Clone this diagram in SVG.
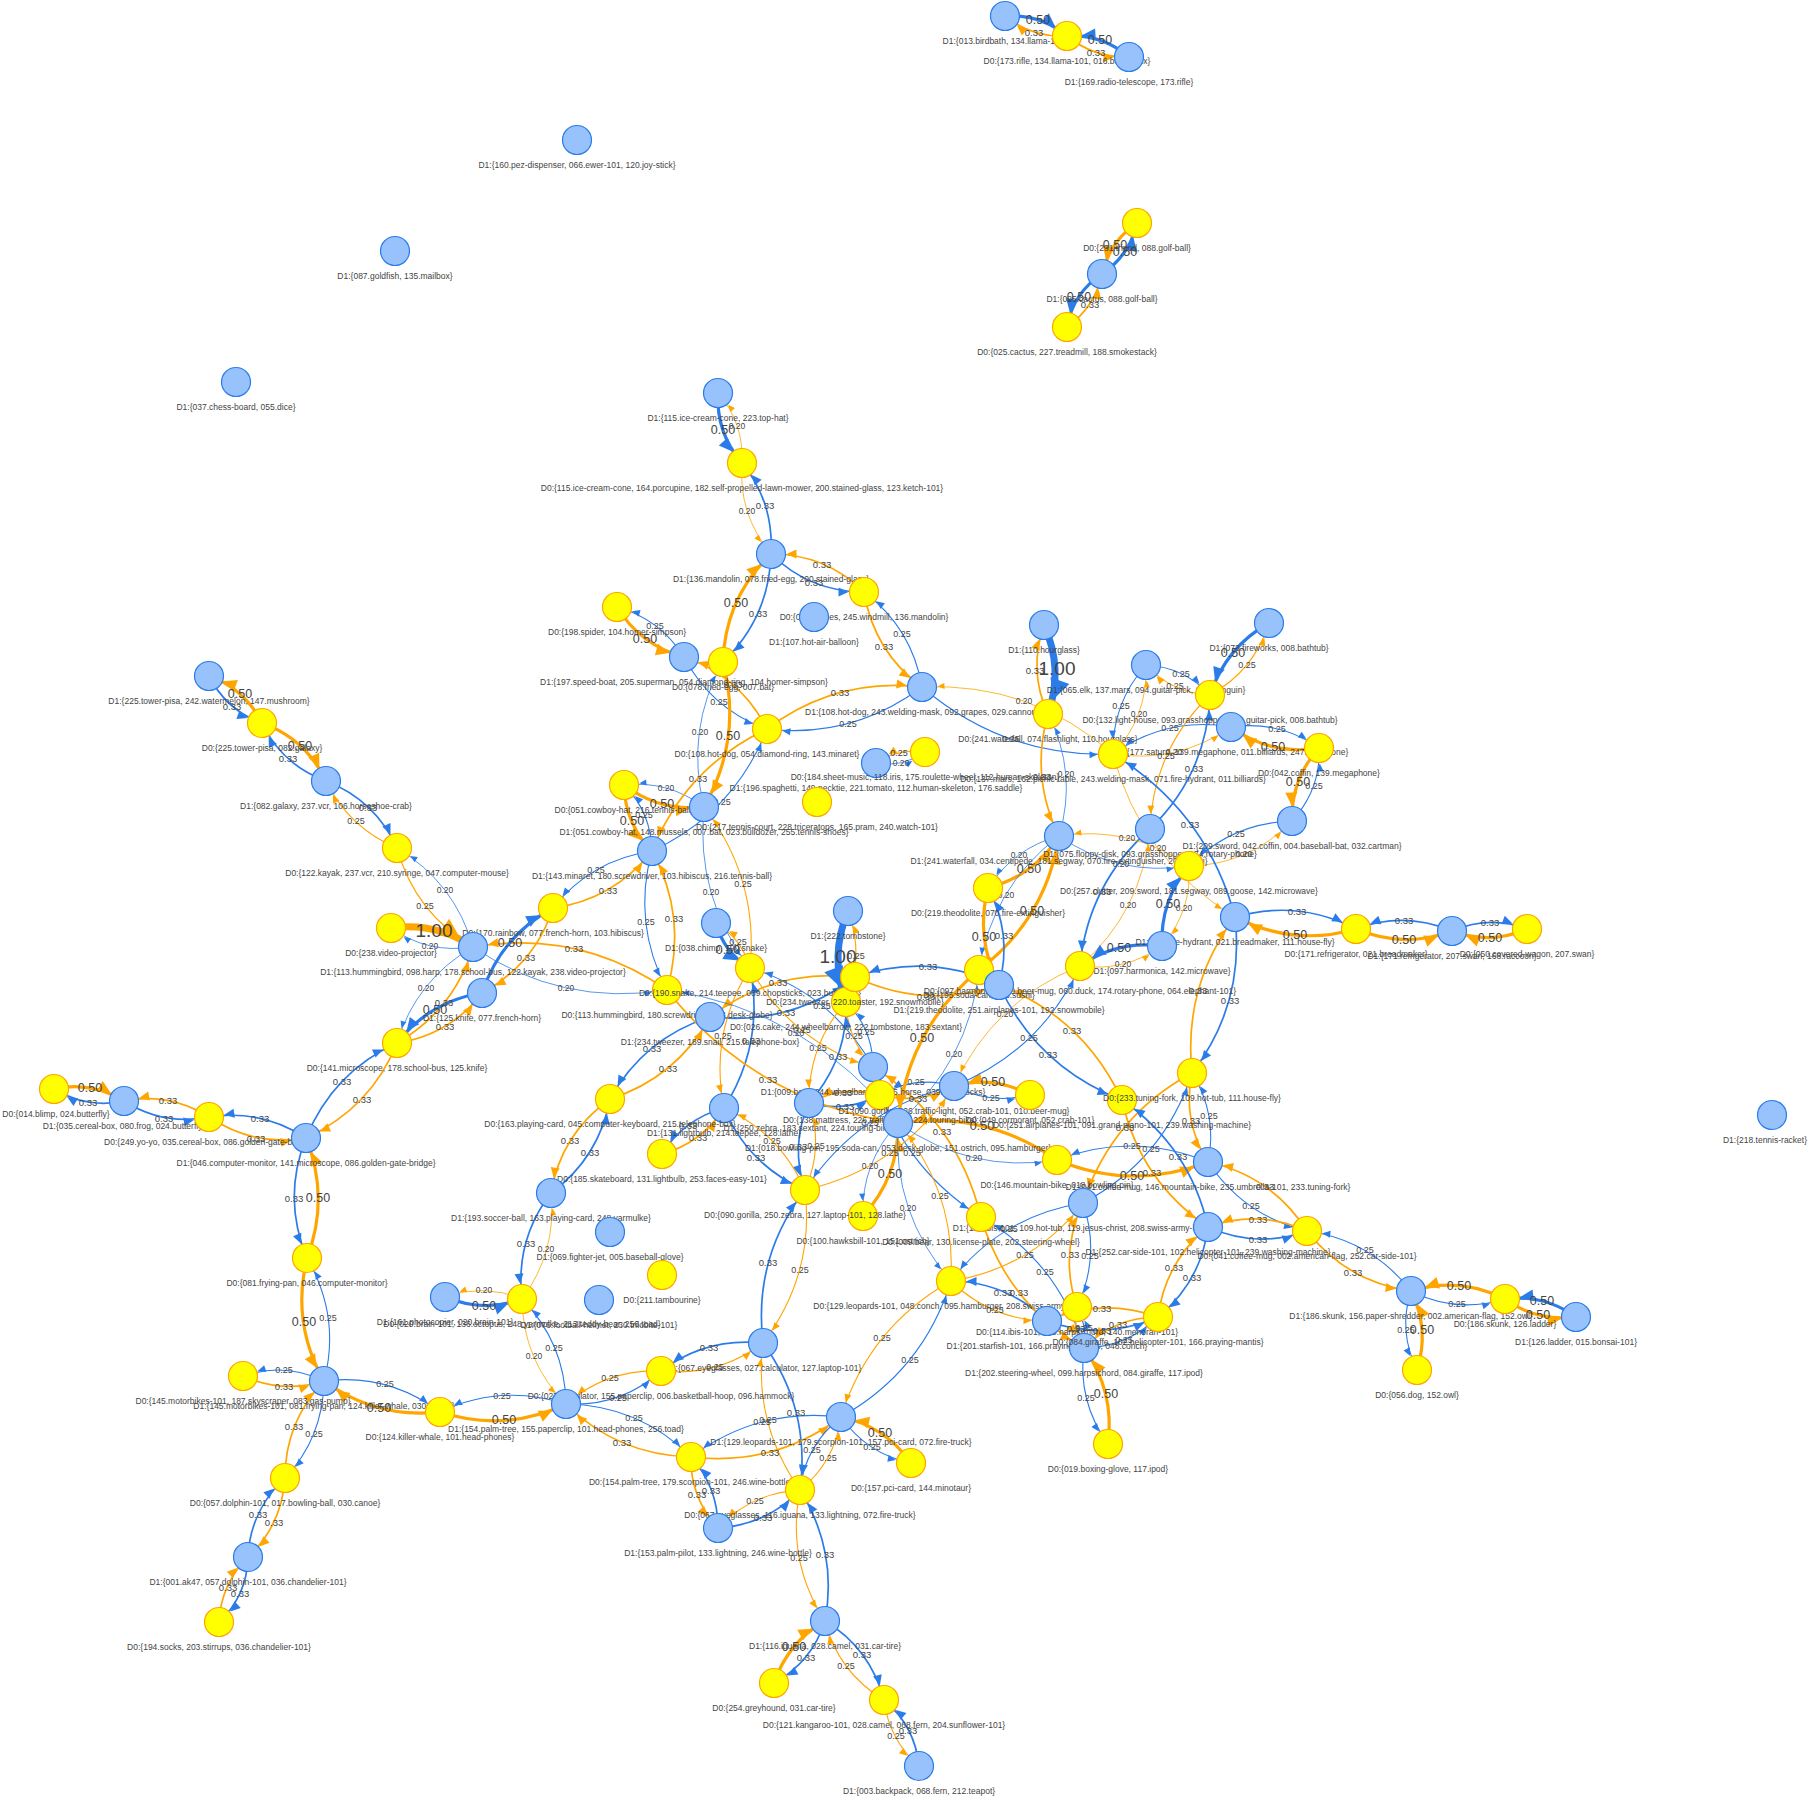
<svg xmlns="http://www.w3.org/2000/svg" width="1814" height="1796" viewBox="0 0 1814 1796">
<style>
.b{fill:none;stroke:#2B7CE9}
.o{fill:none;stroke:#FFA500}
.w20{stroke-width:0.8}.w25{stroke-width:1.1}.w33{stroke-width:1.7}.w50{stroke-width:3.2}.w100{stroke-width:7}
.b.w20{marker-end:url(#mb20)}.b.w25{marker-end:url(#mb25)}.b.w33{marker-end:url(#mb33)}.b.w50{marker-end:url(#mb50)}.b.w100{marker-end:url(#mb100)}
.o.w20{marker-end:url(#mo20)}.o.w25{marker-end:url(#mo25)}.o.w33{marker-end:url(#mo33)}.o.w50{marker-end:url(#mo50)}.o.w100{marker-end:url(#mo100)}
.el{font-family:"Liberation Sans",Arial,sans-serif;fill:#444;text-anchor:middle;dominant-baseline:central}
.f20{font-size:8.5px}.f25{font-size:9px}.f33{font-size:9.5px}.f50{font-size:12.5px}.f100{font-size:19px}
.nl{font-family:"Liberation Sans",Arial,sans-serif;font-size:8.5px;fill:#444;text-anchor:middle;dominant-baseline:central}
.nb{fill:#97C2FC;stroke:#2B7CE9;stroke-width:1.2}
.ny{fill:#FFFF00;stroke:#FFA500;stroke-width:1.2}
</style>
<defs>
<marker id="mb20" markerUnits="userSpaceOnUse" orient="auto" refX="22.5" refY="0" markerWidth="40" markerHeight="40" overflow="visible"><path d="M0,-3L7,0L0,3Z" fill="#2B7CE9"/></marker>
<marker id="mb25" markerUnits="userSpaceOnUse" orient="auto" refX="23.5" refY="0" markerWidth="40" markerHeight="40" overflow="visible"><path d="M0,-3.5L8,0L0,3.5Z" fill="#2B7CE9"/></marker>
<marker id="mb33" markerUnits="userSpaceOnUse" orient="auto" refX="25.5" refY="0" markerWidth="40" markerHeight="40" overflow="visible"><path d="M0,-4.5L10,0L0,4.5Z" fill="#2B7CE9"/></marker>
<marker id="mb50" markerUnits="userSpaceOnUse" orient="auto" refX="28.5" refY="0" markerWidth="40" markerHeight="40" overflow="visible"><path d="M0,-6L13,0L0,6Z" fill="#2B7CE9"/></marker>
<marker id="mb100" markerUnits="userSpaceOnUse" orient="auto" refX="35.5" refY="0" markerWidth="40" markerHeight="40" overflow="visible"><path d="M0,-10L20,0L0,10Z" fill="#2B7CE9"/></marker>
<marker id="mo20" markerUnits="userSpaceOnUse" orient="auto" refX="22.5" refY="0" markerWidth="40" markerHeight="40" overflow="visible"><path d="M0,-3L7,0L0,3Z" fill="#FFA500"/></marker>
<marker id="mo25" markerUnits="userSpaceOnUse" orient="auto" refX="23.5" refY="0" markerWidth="40" markerHeight="40" overflow="visible"><path d="M0,-3.5L8,0L0,3.5Z" fill="#FFA500"/></marker>
<marker id="mo33" markerUnits="userSpaceOnUse" orient="auto" refX="25.5" refY="0" markerWidth="40" markerHeight="40" overflow="visible"><path d="M0,-4.5L10,0L0,4.5Z" fill="#FFA500"/></marker>
<marker id="mo50" markerUnits="userSpaceOnUse" orient="auto" refX="28.5" refY="0" markerWidth="40" markerHeight="40" overflow="visible"><path d="M0,-6L13,0L0,6Z" fill="#FFA500"/></marker>
<marker id="mo100" markerUnits="userSpaceOnUse" orient="auto" refX="35.5" refY="0" markerWidth="40" markerHeight="40" overflow="visible"><path d="M0,-10L20,0L0,10Z" fill="#FFA500"/></marker>
</defs>
<rect width="1814" height="1796" fill="#ffffff"/>
<g id="edges">
<path class="b w50" d="M1005 16Q1040 14 1067 36"/><path class="o w33" d="M1067 36Q1032 38 1005 16"/>
<path class="b w50" d="M1129 57Q1102 34 1067 36"/><path class="o w33" d="M1067 36Q1094 58 1129 57"/>
<path class="b w50" d="M1102 274Q1130 255 1137 223"/><path class="o w50" d="M1137 223Q1110 241 1102 274"/>
<path class="b w50" d="M1102 274Q1073 293 1067 327"/><path class="o w33" d="M1067 327Q1095 307 1102 274"/>
<path class="b w50" d="M718 393Q716 433 742 463"/><path class="o w20" d="M742 463Q744 423 718 393"/>
<path class="b w33" d="M771 554Q774 502 742 463"/><path class="o w20" d="M742 463Q738 514 771 554"/>
<path class="b w33" d="M771 554Q810 592 864 592"/><path class="o w33" d="M864 592Q826 554 771 554"/>
<path class="b w33" d="M771 554Q769 618 723 662"/><path class="o w50" d="M723 662Q725 598 771 554"/>
<path class="b w25" d="M684 657Q660 619 617 607"/><path class="o w50" d="M617 607Q640 645 684 657"/>
<path class="b w25" d="M684 657Q712 710 767 729"/><path class="o w33" d="M767 729Q740 676 684 657"/>
<path class="b w25" d="M922 687Q912 628 864 592"/><path class="o w33" d="M864 592Q874 652 922 687"/>
<path class="b w25" d="M922 687Q852 739 767 729"/><path class="o w33" d="M767 729Q836 677 922 687"/>
<path class="b w25" d="M922 687Q1005 758 1113 754"/><path class="o w20" d="M1113 754Q1031 682 922 687"/>
<path class="b w20" d="M876 763Q902 768 925 752"/><path class="o w25" d="M925 752Q898 748 876 763"/>
<path class="b w20" d="M704 807Q685 730 723 662"/><path class="o w50" d="M723 662Q743 738 704 807"/>
<path class="b w20" d="M704 807Q668 780 624 785"/><path class="o w50" d="M624 785Q660 812 704 807"/>
<path class="b w20" d="M704 807Q695 897 750 968"/><path class="o w25" d="M750 968Q759 879 704 807"/>
<path class="b w25" d="M652 851Q734 813 767 729"/><path class="o w33" d="M767 729Q686 767 652 851"/>
<path class="b w25" d="M652 851Q651 812 624 785"/><path class="o w50" d="M624 785Q625 824 652 851"/>
<path class="b w25" d="M652 851Q591 860 553 908"/><path class="o w33" d="M553 908Q613 900 652 851"/>
<path class="b w25" d="M652 851Q632 923 667 990"/><path class="o w33" d="M667 990Q688 917 652 851"/>
<path class="b w20" d="M473 947Q455 883 397 848"/><path class="o w25" d="M397 848Q415 913 473 947"/>
<path class="b w20" d="M473 947Q428 954 391 928"/><path class="o w100" d="M391 928Q436 922 473 947"/>
<path class="b w20" d="M473 947Q416 980 397 1043"/><path class="o w33" d="M397 1043Q454 1010 473 947"/>
<path class="b w20" d="M473 947Q561 1007 667 990"/><path class="o w33" d="M667 990Q579 929 473 947"/>
<path class="b w50" d="M482 993Q501 936 553 908"/><path class="o w33" d="M553 908Q535 964 482 993"/>
<path class="b w50" d="M482 993Q430 1001 397 1043"/><path class="o w33" d="M397 1043Q450 1035 482 993"/>
<path class="b w50" d="M716 923Q724 953 750 968"/><path class="o w25" d="M750 968Q742 939 716 923"/>
<path class="b w33" d="M710 1017Q790 1026 855 977"/><path class="o w33" d="M855 977Q774 968 710 1017"/>
<path class="b w33" d="M710 1017Q644 1038 610 1099"/><path class="o w33" d="M610 1099Q676 1078 710 1017"/>
<path class="b w100" d="M848 911Q829 956 846 1002"/><path class="o w25" d="M846 1002Q865 956 848 911"/>
<path class="b w25" d="M873 1067Q832 993 750 968"/><path class="o w25" d="M750 968Q792 1043 873 1067"/>
<path class="b w25" d="M873 1067Q873 1029 846 1002"/><path class="o w25" d="M846 1002Q847 1039 873 1067"/>
<path class="b w25" d="M873 1067Q897 1164 981 1217"/><path class="o w33" d="M981 1217Q957 1120 873 1067"/>
<path class="b w25" d="M954 1086Q990 1105 1030 1095"/><path class="o w50" d="M1030 1095Q994 1075 954 1086"/>
<path class="b w25" d="M954 1086Q915 1075 880 1095"/><path class="o w33" d="M880 1095Q919 1105 954 1086"/>
<path class="b w25" d="M954 1086Q859 1108 805 1190"/><path class="o w25" d="M805 1190Q901 1168 954 1086"/>
<path class="b w25" d="M954 1086Q1041 1051 1080 966"/><path class="o w20" d="M1080 966Q993 1001 954 1086"/>
<path class="b w33" d="M809 1103Q848 1059 846 1002"/><path class="o w25" d="M846 1002Q808 1045 809 1103"/>
<path class="b w33" d="M809 1103Q846 1113 880 1095"/><path class="o w33" d="M880 1095Q842 1085 809 1103"/>
<path class="b w33" d="M809 1103Q790 1145 805 1190"/><path class="o w25" d="M805 1190Q824 1147 809 1103"/>
<path class="b w33" d="M724 1108Q765 1043 750 968"/><path class="o w25" d="M750 968Q709 1033 724 1108"/>
<path class="b w33" d="M724 1108Q748 1165 805 1190"/><path class="o w25" d="M805 1190Q780 1133 724 1108"/>
<path class="b w33" d="M724 1108Q684 1119 662 1154"/><path class="o w33" d="M662 1154Q702 1143 724 1108"/>
<path class="b w20" d="M898 1123Q809 1010 667 990"/><path class="o w33" d="M667 990Q755 1102 898 1123"/>
<path class="b w20" d="M898 1123Q971 1174 1057 1160"/><path class="o w50" d="M1057 1160Q985 1110 898 1123"/>
<path class="b w20" d="M898 1123Q861 1163 863 1216"/><path class="o w50" d="M863 1216Q899 1177 898 1123"/>
<path class="b w20" d="M898 1123Q892 1213 951 1281"/><path class="o w25" d="M951 1281Q956 1191 898 1123"/>
<path class="b w20" d="M898 1123Q969 1062 979 970"/><path class="o w50" d="M979 970Q907 1030 898 1123"/>
<path class="b w25" d="M1083 1203Q1001 1216 951 1281"/><path class="o w25" d="M951 1281Q1033 1268 1083 1203"/>
<path class="b w25" d="M1083 1203Q1101 1256 1077 1307"/><path class="o w33" d="M1077 1307Q1059 1254 1083 1203"/>
<path class="b w25" d="M1083 1203Q1164 1160 1192 1073"/><path class="o w33" d="M1192 1073Q1112 1116 1083 1203"/>
<path class="b w25" d="M1208 1162Q1132 1131 1057 1160"/><path class="o w50" d="M1057 1160Q1132 1191 1208 1162"/>
<path class="b w25" d="M1208 1162Q1244 1216 1307 1231"/><path class="o w33" d="M1307 1231Q1272 1176 1208 1162"/>
<path class="b w25" d="M1208 1162Q1218 1115 1192 1073"/><path class="o w33" d="M1192 1073Q1182 1121 1208 1162"/>
<path class="b w33" d="M551 1193Q599 1158 610 1099"/><path class="o w33" d="M610 1099Q561 1134 551 1193"/>
<path class="b w33" d="M551 1193Q515 1240 522 1299"/><path class="o w20" d="M522 1299Q557 1252 551 1193"/>
<path class="b w50" d="M445 1297Q484 1313 522 1299"/><path class="o w20" d="M522 1299Q484 1283 445 1297"/>
<path class="b w33" d="M763 1343Q753 1258 805 1190"/><path class="o w25" d="M805 1190Q815 1274 763 1343"/>
<path class="b w33" d="M763 1343Q706 1337 661 1371"/><path class="o w25" d="M661 1371Q718 1377 763 1343"/>
<path class="b w33" d="M763 1343Q811 1409 800 1490"/><path class="o w25" d="M800 1490Q753 1423 763 1343"/>
<path class="b w25" d="M566 1404Q565 1343 522 1299"/><path class="o w20" d="M522 1299Q523 1361 566 1404"/>
<path class="b w25" d="M566 1404Q621 1407 661 1371"/><path class="o w25" d="M661 1371Q607 1369 566 1404"/>
<path class="b w25" d="M566 1404Q639 1405 691 1457"/><path class="o w33" d="M691 1457Q617 1455 566 1404"/>
<path class="b w25" d="M566 1404Q501 1383 440 1412"/><path class="o w50" d="M440 1412Q505 1433 566 1404"/>
<path class="b w25" d="M841 1417Q758 1407 691 1457"/><path class="o w33" d="M691 1457Q774 1467 841 1417"/>
<path class="b w25" d="M841 1417Q867 1454 911 1463"/><path class="o w50" d="M911 1463Q885 1426 841 1417"/>
<path class="b w25" d="M841 1417Q805 1446 800 1490"/><path class="o w25" d="M800 1490Q835 1462 841 1417"/>
<path class="b w25" d="M841 1417Q923 1371 951 1281"/><path class="o w25" d="M951 1281Q869 1327 841 1417"/>
<path class="b w33" d="M718 1528Q718 1487 691 1457"/><path class="o w33" d="M691 1457Q690 1497 718 1528"/>
<path class="b w33" d="M718 1528Q767 1525 800 1490"/><path class="o w25" d="M800 1490Q751 1493 718 1528"/>
<path class="b w33" d="M825 1621Q838 1551 800 1490"/><path class="o w25" d="M800 1490Q786 1561 825 1621"/>
<path class="b w33" d="M825 1621Q812 1662 774 1683"/><path class="o w50" d="M774 1683Q788 1642 825 1621"/>
<path class="b w33" d="M825 1621Q870 1648 884 1700"/><path class="o w25" d="M884 1700Q838 1672 825 1621"/>
<path class="b w33" d="M919 1766Q915 1726 884 1700"/><path class="o w25" d="M884 1700Q889 1740 919 1766"/>
<path class="b w33" d="M1047 1321Q1007 1282 951 1281"/><path class="o w25" d="M951 1281Q991 1320 1047 1321"/>
<path class="b w33" d="M1047 1321Q1103 1341 1158 1317"/><path class="o w33" d="M1158 1317Q1101 1297 1047 1321"/>
<path class="b w25" d="M1084 1348Q1058 1261 981 1217"/><path class="o w33" d="M981 1217Q1006 1303 1084 1348"/>
<path class="b w25" d="M1084 1348Q1088 1327 1077 1307"/><path class="o w33" d="M1077 1307Q1072 1329 1084 1348"/>
<path class="b w25" d="M1084 1348Q1127 1347 1158 1317"/><path class="o w33" d="M1158 1317Q1115 1317 1084 1348"/>
<path class="b w25" d="M1084 1348Q1077 1401 1108 1444"/><path class="o w50" d="M1108 1444Q1115 1391 1084 1348"/>
<path class="b w33" d="M1208 1227Q1201 1282 1158 1317"/><path class="o w33" d="M1158 1317Q1165 1262 1208 1227"/>
<path class="b w33" d="M1208 1227Q1257 1249 1307 1231"/><path class="o w33" d="M1307 1231Q1259 1209 1208 1227"/>
<path class="b w33" d="M1208 1227Q1190 1147 1122 1100"/><path class="o w33" d="M1122 1100Q1140 1181 1208 1227"/>
<path class="b w25" d="M1231 727Q1167 716 1113 754"/><path class="o w20" d="M1113 754Q1177 764 1231 727"/>
<path class="b w25" d="M1231 727Q1279 720 1319 748"/><path class="o w50" d="M1319 748Q1271 756 1231 727"/>
<path class="b w33" d="M1150 829Q1088 884 1080 966"/><path class="o w20" d="M1080 966Q1142 912 1150 829"/>
<path class="b w33" d="M1150 829Q1207 774 1210 695"/><path class="o w25" d="M1210 695Q1153 750 1150 829"/>
<path class="b w25" d="M1292 821Q1231 823 1189 866"/><path class="o w20" d="M1189 866Q1249 865 1292 821"/>
<path class="b w25" d="M1292 821Q1321 789 1319 748"/><path class="o w50" d="M1319 748Q1291 779 1292 821"/>
<path class="b w20" d="M1059 836Q1118 877 1189 866"/><path class="o w20" d="M1189 866Q1130 825 1059 836"/>
<path class="b w20" d="M1059 836Q1014 848 988 888"/><path class="o w50" d="M988 888Q1034 876 1059 836"/>
<path class="b w20" d="M1059 836Q992 887 979 970"/><path class="o w50" d="M979 970Q1046 919 1059 836"/>
<path class="b w20" d="M1059 836Q1078 773 1048 714"/><path class="o w33" d="M1048 714Q1030 777 1059 836"/>
<path class="b w33" d="M1235 917Q1245 1004 1192 1073"/><path class="o w33" d="M1192 1073Q1183 986 1235 917"/>
<path class="b w33" d="M1235 917Q1207 812 1113 754"/><path class="o w20" d="M1113 754Q1141 860 1235 917"/>
<path class="b w33" d="M1235 917Q1298 899 1356 929"/><path class="o w50" d="M1356 929Q1294 947 1235 917"/>
<path class="b w50" d="M1162 946Q1160 901 1189 866"/><path class="o w20" d="M1189 866Q1192 911 1162 946"/>
<path class="b w50" d="M1162 946Q1117 940 1080 966"/><path class="o w20" d="M1080 966Q1125 972 1162 946"/>
<path class="b w33" d="M999 985Q929 952 855 977"/><path class="o w33" d="M855 977Q925 1010 999 985"/>
<path class="b w33" d="M999 985Q1037 1067 1122 1100"/><path class="o w33" d="M1122 1100Q1083 1017 999 985"/>
<path class="b w33" d="M999 985Q1013 934 988 888"/><path class="o w50" d="M988 888Q975 938 999 985"/>
<path class="b w100" d="M1044 625Q1064 669 1048 714"/><path class="o w33" d="M1048 714Q1028 671 1044 625"/>
<path class="b w25" d="M1146 665Q1112 703 1113 754"/><path class="o w20" d="M1113 754Q1148 717 1146 665"/>
<path class="b w25" d="M1146 665Q1184 667 1210 695"/><path class="o w25" d="M1210 695Q1172 693 1146 665"/>
<path class="b w50" d="M1269 623Q1226 647 1210 695"/><path class="o w25" d="M1210 695Q1254 671 1269 623"/>
<path class="b w33" d="M1452 931Q1404 911 1356 929"/><path class="o w50" d="M1356 929Q1404 949 1452 931"/>
<path class="b w33" d="M1452 931Q1490 915 1527 929"/><path class="o w50" d="M1527 929Q1490 945 1452 931"/>
<path class="b w25" d="M1411 1291Q1371 1240 1307 1231"/><path class="o w33" d="M1307 1231Q1347 1282 1411 1291"/>
<path class="b w25" d="M1411 1291Q1456 1314 1505 1299"/><path class="o w50" d="M1505 1299Q1460 1276 1411 1291"/>
<path class="b w25" d="M1411 1291Q1398 1331 1417 1370"/><path class="o w50" d="M1417 1370Q1430 1329 1411 1291"/>
<path class="b w50" d="M1576 1317Q1544 1294 1505 1299"/><path class="o w50" d="M1505 1299Q1536 1322 1576 1317"/>
<path class="b w33" d="M209 676Q227 711 262 723"/><path class="o w50" d="M262 723Q245 689 209 676"/>
<path class="b w33" d="M326 781Q282 765 262 723"/><path class="o w50" d="M262 723Q306 739 326 781"/>
<path class="b w33" d="M326 781Q375 800 397 848"/><path class="o w25" d="M397 848Q349 828 326 781"/>
<path class="b w33" d="M124 1101Q87 1109 54 1089"/><path class="o w50" d="M54 1089Q91 1081 124 1101"/>
<path class="b w33" d="M124 1101Q163 1126 209 1117"/><path class="o w33" d="M209 1117Q169 1092 124 1101"/>
<path class="b w33" d="M306 1138Q333 1072 397 1043"/><path class="o w33" d="M397 1043Q371 1108 306 1138"/>
<path class="b w33" d="M306 1138Q262 1109 209 1117"/><path class="o w33" d="M209 1117Q254 1147 306 1138"/>
<path class="b w33" d="M306 1138Q282 1198 307 1258"/><path class="o w50" d="M307 1258Q330 1198 306 1138"/>
<path class="b w25" d="M324 1381Q341 1317 307 1258"/><path class="o w50" d="M307 1258Q291 1323 324 1381"/>
<path class="b w25" d="M324 1381Q285 1362 243 1376"/><path class="o w33" d="M243 1376Q283 1394 324 1381"/>
<path class="b w25" d="M324 1381Q388 1373 440 1412"/><path class="o w50" d="M440 1412Q376 1419 324 1381"/>
<path class="b w25" d="M324 1381Q323 1438 285 1478"/><path class="o w33" d="M285 1478Q285 1422 324 1381"/>
<path class="b w33" d="M248 1557Q250 1511 285 1478"/><path class="o w33" d="M285 1478Q282 1525 248 1557"/>
<path class="b w33" d="M248 1557Q247 1596 219 1622"/><path class="o w33" d="M219 1622Q221 1584 248 1557"/>
</g>
<g id="edge-labels" class="el">
<text class="f50" x="1038" y="20">0.50</text><text class="f33" x="1034" y="32">0.33</text>
<text class="f50" x="1100" y="40">0.50</text><text class="f33" x="1096" y="52">0.33</text>
<text class="f50" x="1125" y="252">0.50</text><text class="f50" x="1115" y="245">0.50</text>
<text class="f50" x="1079" y="297">0.50</text><text class="f33" x="1090" y="304">0.33</text>
<text class="f50" x="723" y="430">0.50</text><text class="f20" x="737" y="426">0.20</text>
<text class="f33" x="765" y="505">0.33</text><text class="f20" x="747" y="511">0.20</text>
<text class="f33" x="814" y="582">0.33</text><text class="f33" x="822" y="564">0.33</text>
<text class="f33" x="758" y="613">0.33</text><text class="f50" x="736" y="603">0.50</text>
<text class="f25" x="655" y="626">0.25</text><text class="f50" x="645" y="639">0.50</text>
<text class="f25" x="719" y="702">0.25</text><text class="f33" x="733" y="684">0.33</text>
<text class="f25" x="902" y="634">0.25</text><text class="f33" x="884" y="646">0.33</text>
<text class="f25" x="848" y="724">0.25</text><text class="f33" x="840" y="692">0.33</text>
<text class="f25" x="1011" y="739">0.25</text><text class="f20" x="1024" y="701">0.20</text>
<text class="f20" x="901" y="763">0.20</text><text class="f25" x="899" y="753">0.25</text>
<text class="f20" x="700" y="732">0.20</text><text class="f50" x="728" y="736">0.50</text>
<text class="f20" x="666" y="788">0.20</text><text class="f50" x="662" y="804">0.50</text>
<text class="f20" x="711" y="892">0.20</text><text class="f25" x="743" y="884">0.25</text>
<text class="f25" x="722" y="802">0.25</text><text class="f33" x="698" y="778">0.33</text>
<text class="f25" x="644" y="815">0.25</text><text class="f50" x="632" y="821">0.50</text>
<text class="f25" x="596" y="870">0.25</text><text class="f33" x="608" y="890">0.33</text>
<text class="f25" x="646" y="922">0.25</text><text class="f33" x="674" y="918">0.33</text>
<text class="f20" x="445" y="890">0.20</text><text class="f25" x="425" y="906">0.25</text>
<text class="f20" x="430" y="946">0.20</text><text class="f100" x="434" y="930">1.00</text>
<text class="f20" x="426" y="988">0.20</text><text class="f33" x="444" y="1002">0.33</text>
<text class="f20" x="566" y="988">0.20</text><text class="f33" x="574" y="948">0.33</text>
<text class="f50" x="510" y="943">0.50</text><text class="f33" x="526" y="957">0.33</text>
<text class="f50" x="435" y="1010">0.50</text><text class="f33" x="445" y="1026">0.33</text>
<text class="f50" x="728" y="950">0.50</text><text class="f25" x="738" y="942">0.25</text>
<text class="f33" x="786" y="1012">0.33</text><text class="f33" x="778" y="982">0.33</text>
<text class="f33" x="652" y="1048">0.33</text><text class="f33" x="668" y="1068">0.33</text>
<text class="f100" x="838" y="956">1.00</text><text class="f25" x="856" y="956">0.25</text>
<text class="f25" x="822" y="1006">0.25</text><text class="f25" x="802" y="1030">0.25</text>
<text class="f25" x="866" y="1032">0.25</text><text class="f25" x="854" y="1036">0.25</text>
<text class="f25" x="912" y="1153">0.25</text><text class="f33" x="942" y="1131">0.33</text>
<text class="f25" x="991" y="1098">0.25</text><text class="f50" x="993" y="1082">0.50</text>
<text class="f25" x="916" y="1082">0.25</text><text class="f33" x="918" y="1098">0.33</text>
<text class="f25" x="870" y="1123">0.25</text><text class="f25" x="890" y="1153">0.25</text>
<text class="f25" x="1029" y="1038">0.25</text><text class="f20" x="1005" y="1014">0.20</text>
<text class="f33" x="838" y="1056">0.33</text><text class="f25" x="818" y="1048">0.25</text>
<text class="f33" x="845" y="1106">0.33</text><text class="f33" x="843" y="1092">0.33</text>
<text class="f33" x="798" y="1146">0.33</text><text class="f25" x="816" y="1146">0.25</text>
<text class="f33" x="751" y="1040">0.33</text><text class="f25" x="723" y="1036">0.25</text>
<text class="f33" x="756" y="1157">0.33</text><text class="f25" x="772" y="1141">0.25</text>
<text class="f33" x="688" y="1125">0.33</text><text class="f33" x="698" y="1137">0.33</text>
<text class="f20" x="796" y="1033">0.20</text><text class="f33" x="768" y="1079">0.33</text>
<text class="f20" x="974" y="1158">0.20</text><text class="f50" x="982" y="1126">0.50</text>
<text class="f20" x="870" y="1166">0.20</text><text class="f50" x="890" y="1174">0.50</text>
<text class="f20" x="908" y="1208">0.20</text><text class="f25" x="940" y="1196">0.25</text>
<text class="f20" x="954" y="1054">0.20</text><text class="f50" x="922" y="1038">0.50</text>
<text class="f25" x="1009" y="1229">0.25</text><text class="f25" x="1025" y="1255">0.25</text>
<text class="f25" x="1090" y="1256">0.25</text><text class="f33" x="1070" y="1254">0.33</text>
<text class="f25" x="1151" y="1149">0.25</text><text class="f33" x="1125" y="1127">0.33</text>
<text class="f25" x="1132" y="1146">0.25</text><text class="f50" x="1132" y="1176">0.50</text>
<text class="f25" x="1251" y="1206">0.25</text><text class="f33" x="1265" y="1186">0.33</text>
<text class="f25" x="1209" y="1116">0.25</text><text class="f33" x="1191" y="1120">0.33</text>
<text class="f33" x="590" y="1152">0.33</text><text class="f33" x="570" y="1140">0.33</text>
<text class="f33" x="526" y="1243">0.33</text><text class="f20" x="546" y="1249">0.20</text>
<text class="f50" x="484" y="1306">0.50</text><text class="f20" x="484" y="1290">0.20</text>
<text class="f33" x="768" y="1262">0.33</text><text class="f25" x="800" y="1270">0.25</text>
<text class="f33" x="709" y="1347">0.33</text><text class="f25" x="715" y="1367">0.25</text>
<text class="f33" x="796" y="1412">0.33</text><text class="f25" x="768" y="1420">0.25</text>
<text class="f25" x="554" y="1348">0.25</text><text class="f20" x="534" y="1356">0.20</text>
<text class="f25" x="618" y="1398">0.25</text><text class="f25" x="610" y="1378">0.25</text>
<text class="f25" x="634" y="1418">0.25</text><text class="f33" x="622" y="1442">0.33</text>
<text class="f25" x="502" y="1396">0.25</text><text class="f50" x="504" y="1420">0.50</text>
<text class="f25" x="762" y="1422">0.25</text><text class="f33" x="770" y="1452">0.33</text>
<text class="f25" x="872" y="1447">0.25</text><text class="f50" x="880" y="1433">0.50</text>
<text class="f25" x="812" y="1450">0.25</text><text class="f25" x="828" y="1458">0.25</text>
<text class="f25" x="910" y="1360">0.25</text><text class="f25" x="882" y="1338">0.25</text>
<text class="f33" x="711" y="1490">0.33</text><text class="f33" x="697" y="1494">0.33</text>
<text class="f33" x="763" y="1517">0.33</text><text class="f25" x="755" y="1501">0.25</text>
<text class="f33" x="825" y="1554">0.33</text><text class="f25" x="799" y="1558">0.25</text>
<text class="f33" x="806" y="1657">0.33</text><text class="f50" x="794" y="1647">0.50</text>
<text class="f33" x="862" y="1654">0.33</text><text class="f25" x="846" y="1666">0.25</text>
<text class="f33" x="908" y="1730">0.33</text><text class="f25" x="896" y="1736">0.25</text>
<text class="f33" x="1003" y="1292">0.33</text><text class="f25" x="995" y="1310">0.25</text>
<text class="f33" x="1102" y="1330">0.33</text><text class="f33" x="1102" y="1308">0.33</text>
<text class="f25" x="1045" y="1272">0.25</text><text class="f33" x="1019" y="1292">0.33</text>
<text class="f25" x="1084" y="1328">0.25</text><text class="f33" x="1076" y="1328">0.33</text>
<text class="f25" x="1124" y="1340">0.25</text><text class="f33" x="1118" y="1324">0.33</text>
<text class="f25" x="1086" y="1398">0.25</text><text class="f50" x="1106" y="1394">0.50</text>
<text class="f33" x="1192" y="1277">0.33</text><text class="f33" x="1174" y="1267">0.33</text>
<text class="f33" x="1258" y="1239">0.33</text><text class="f33" x="1258" y="1219">0.33</text>
<text class="f33" x="1178" y="1156">0.33</text><text class="f33" x="1152" y="1172">0.33</text>
<text class="f25" x="1170" y="728">0.25</text><text class="f20" x="1174" y="752">0.20</text>
<text class="f25" x="1277" y="729">0.25</text><text class="f50" x="1273" y="747">0.50</text>
<text class="f33" x="1102" y="891">0.33</text><text class="f20" x="1128" y="905">0.20</text>
<text class="f33" x="1194" y="768">0.33</text><text class="f25" x="1166" y="756">0.25</text>
<text class="f25" x="1236" y="834">0.25</text><text class="f20" x="1244" y="854">0.20</text>
<text class="f25" x="1314" y="786">0.25</text><text class="f50" x="1298" y="782">0.50</text>
<text class="f20" x="1121" y="864">0.20</text><text class="f20" x="1127" y="838">0.20</text>
<text class="f20" x="1019" y="855">0.20</text><text class="f50" x="1029" y="869">0.50</text>
<text class="f20" x="1006" y="895">0.20</text><text class="f50" x="1032" y="911">0.50</text>
<text class="f20" x="1066" y="774">0.20</text><text class="f33" x="1042" y="776">0.33</text>
<text class="f33" x="1230" y="1000">0.33</text><text class="f33" x="1198" y="990">0.33</text>
<text class="f33" x="1190" y="824">0.33</text><text class="f20" x="1158" y="848">0.20</text>
<text class="f33" x="1297" y="911">0.33</text><text class="f50" x="1295" y="935">0.50</text>
<text class="f50" x="1168" y="904">0.50</text><text class="f20" x="1184" y="908">0.20</text>
<text class="f50" x="1119" y="948">0.50</text><text class="f20" x="1123" y="964">0.20</text>
<text class="f33" x="928" y="966">0.33</text><text class="f33" x="926" y="996">0.33</text>
<text class="f33" x="1048" y="1054">0.33</text><text class="f33" x="1072" y="1030">0.33</text>
<text class="f33" x="1004" y="935">0.33</text><text class="f50" x="984" y="937">0.50</text>
<text class="f100" x="1057" y="668">1.00</text><text class="f33" x="1035" y="670">0.33</text>
<text class="f25" x="1121" y="706">0.25</text><text class="f20" x="1139" y="714">0.20</text>
<text class="f25" x="1181" y="674">0.25</text><text class="f25" x="1175" y="686">0.25</text>
<text class="f50" x="1233" y="653">0.50</text><text class="f25" x="1247" y="665">0.25</text>
<text class="f33" x="1404" y="920">0.33</text><text class="f50" x="1404" y="940">0.50</text>
<text class="f33" x="1490" y="922">0.33</text><text class="f50" x="1490" y="938">0.50</text>
<text class="f25" x="1365" y="1250">0.25</text><text class="f33" x="1353" y="1272">0.33</text>
<text class="f25" x="1457" y="1304">0.25</text><text class="f50" x="1459" y="1286">0.50</text>
<text class="f25" x="1406" y="1330">0.25</text><text class="f50" x="1422" y="1330">0.50</text>
<text class="f50" x="1542" y="1301">0.50</text><text class="f50" x="1538" y="1315">0.50</text>
<text class="f33" x="232" y="706">0.33</text><text class="f50" x="240" y="694">0.50</text>
<text class="f33" x="288" y="758">0.33</text><text class="f50" x="300" y="746">0.50</text>
<text class="f33" x="368" y="807">0.33</text><text class="f25" x="356" y="821">0.25</text>
<text class="f33" x="88" y="1102">0.33</text><text class="f50" x="90" y="1088">0.50</text>
<text class="f33" x="164" y="1118">0.33</text><text class="f33" x="168" y="1100">0.33</text>
<text class="f33" x="342" y="1081">0.33</text><text class="f33" x="362" y="1099">0.33</text>
<text class="f33" x="260" y="1118">0.33</text><text class="f33" x="256" y="1138">0.33</text>
<text class="f33" x="294" y="1198">0.33</text><text class="f50" x="318" y="1198">0.50</text>
<text class="f25" x="328" y="1318">0.25</text><text class="f50" x="304" y="1322">0.50</text>
<text class="f25" x="284" y="1370">0.25</text><text class="f33" x="284" y="1386">0.33</text>
<text class="f25" x="385" y="1384">0.25</text><text class="f50" x="379" y="1408">0.50</text>
<text class="f25" x="314" y="1434">0.25</text><text class="f33" x="294" y="1426">0.33</text>
<text class="f33" x="274" y="1522">0.33</text><text class="f33" x="258" y="1514">0.33</text>
<text class="f33" x="228" y="1587">0.33</text><text class="f33" x="240" y="1593">0.33</text>
</g>
<g id="nodes">
<g id="b1"><circle class="nb" cx="1005" cy="16" r="14.5"/><text class="nl" x="1005" y="41">D1:{013.birdbath, 134.llama-101}</text></g>
<g id="y1"><circle class="ny" cx="1067" cy="36" r="14.5"/><text class="nl" x="1067" y="61">D0:{173.rifle, 134.llama-101, 016.boom-box}</text></g>
<g id="b2"><circle class="nb" cx="1129" cy="57" r="14.5"/><text class="nl" x="1129" y="82">D1:{169.radio-telescope, 173.rifle}</text></g>
<g id="b3"><circle class="nb" cx="577" cy="140" r="14.5"/><text class="nl" x="577" y="165">D1:{160.pez-dispenser, 066.ewer-101, 120.joy-stick}</text></g>
<g id="b4"><circle class="nb" cx="395" cy="251" r="14.5"/><text class="nl" x="395" y="276">D1:{087.goldfish, 135.mailbox}</text></g>
<g id="b5"><circle class="nb" cx="236" cy="382" r="14.5"/><text class="nl" x="236" y="407">D1:{037.chess-board, 055.dice}</text></g>
<g id="y2"><circle class="ny" cx="1137" cy="223" r="14.5"/><text class="nl" x="1137" y="248">D0:{231.tripod, 088.golf-ball}</text></g>
<g id="b6"><circle class="nb" cx="1102" cy="274" r="14.5"/><text class="nl" x="1102" y="299">D1:{025.cactus, 088.golf-ball}</text></g>
<g id="y3"><circle class="ny" cx="1067" cy="327" r="14.5"/><text class="nl" x="1067" y="352">D0:{025.cactus, 227.treadmill, 188.smokestack}</text></g>
<g id="b7"><circle class="nb" cx="718" cy="393" r="14.5"/><text class="nl" x="718" y="418">D1:{115.ice-cream-cone, 223.top-hat}</text></g>
<g id="y4"><circle class="ny" cx="742" cy="463" r="14.5"/><text class="nl" x="742" y="488">D0:{115.ice-cream-cone, 164.porcupine, 182.self-propelled-lawn-mower, 200.stained-glass, 123.ketch-101}</text></g>
<g id="b8"><circle class="nb" cx="771" cy="554" r="14.5"/><text class="nl" x="771" y="579">D1:{136.mandolin, 078.fried-egg, 200.stained-glass}</text></g>
<g id="y5"><circle class="ny" cx="864" cy="592" r="14.5"/><text class="nl" x="864" y="617">D0:{092.grapes, 245.windmill, 136.mandolin}</text></g>
<g id="b9"><circle class="nb" cx="814" cy="617" r="14.5"/><text class="nl" x="814" y="642">D1:{107.hot-air-balloon}</text></g>
<g id="y6"><circle class="ny" cx="617" cy="607" r="14.5"/><text class="nl" x="617" y="632">D0:{198.spider, 104.homer-simpson}</text></g>
<g id="b10"><circle class="nb" cx="684" cy="657" r="14.5"/><text class="nl" x="684" y="682">D1:{197.speed-boat, 205.superman, 054.diamond-ring, 104.homer-simpson}</text></g>
<g id="y7"><circle class="ny" cx="723" cy="662" r="14.5"/><text class="nl" x="723" y="687">D0:{078.fried-egg, 007.bat}</text></g>
<g id="y8"><circle class="ny" cx="767" cy="729" r="14.5"/><text class="nl" x="767" y="754">D0:{108.hot-dog, 054.diamond-ring, 143.minaret}</text></g>
<g id="b11"><circle class="nb" cx="922" cy="687" r="14.5"/><text class="nl" x="922" y="712">D1:{108.hot-dog, 243.welding-mask, 092.grapes, 029.cannon}</text></g>
<g id="b12"><circle class="nb" cx="876" cy="763" r="14.5"/><text class="nl" x="876" y="788">D1:{196.spaghetti, 149.necktie, 221.tomato, 112.human-skeleton, 176.saddle}</text></g>
<g id="y9"><circle class="ny" cx="925" cy="752" r="14.5"/><text class="nl" x="925" y="777">D0:{184.sheet-music, 118.iris, 175.roulette-wheel, 112.human-skeleton}</text></g>
<g id="y10"><circle class="ny" cx="817" cy="802" r="14.5"/><text class="nl" x="817" y="827">D0:{217.tennis-court, 228.triceratops, 165.pram, 240.watch-101}</text></g>
<g id="y11"><circle class="ny" cx="624" cy="785" r="14.5"/><text class="nl" x="624" y="810">D0:{051.cowboy-hat, 216.tennis-ball}</text></g>
<g id="b13"><circle class="nb" cx="704" cy="807" r="14.5"/><text class="nl" x="704" y="832">D1:{051.cowboy-hat, 148.mussels, 007.bat, 023.bulldozer, 255.tennis-shoes}</text></g>
<g id="b14"><circle class="nb" cx="652" cy="851" r="14.5"/><text class="nl" x="652" y="876">D1:{143.minaret, 180.screwdriver, 103.hibiscus, 216.tennis-ball}</text></g>
<g id="b57"><circle class="nb" cx="209" cy="676" r="14.5"/><text class="nl" x="209" y="701">D1:{225.tower-pisa, 242.watermelon, 147.mushroom}</text></g>
<g id="y55"><circle class="ny" cx="262" cy="723" r="14.5"/><text class="nl" x="262" y="748">D0:{225.tower-pisa, 082.galaxy}</text></g>
<g id="b58"><circle class="nb" cx="326" cy="781" r="14.5"/><text class="nl" x="326" y="806">D1:{082.galaxy, 237.vcr, 106.horseshoe-crab}</text></g>
<g id="y12"><circle class="ny" cx="397" cy="848" r="14.5"/><text class="nl" x="397" y="873">D0:{122.kayak, 237.vcr, 210.syringe, 047.computer-mouse}</text></g>
<g id="y13"><circle class="ny" cx="391" cy="928" r="14.5"/><text class="nl" x="391" y="953">D0:{238.video-projector}</text></g>
<g id="y14"><circle class="ny" cx="553" cy="908" r="14.5"/><text class="nl" x="553" y="933">D0:{170.rainbow, 077.french-horn, 103.hibiscus}</text></g>
<g id="b15"><circle class="nb" cx="473" cy="947" r="14.5"/><text class="nl" x="473" y="972">D1:{113.hummingbird, 098.harp, 178.school-bus, 122.kayak, 238.video-projector}</text></g>
<g id="b16"><circle class="nb" cx="482" cy="993" r="14.5"/><text class="nl" x="482" y="1018">D1:{125.knife, 077.french-horn}</text></g>
<g id="y15"><circle class="ny" cx="397" cy="1043" r="14.5"/><text class="nl" x="397" y="1068">D0:{141.microscope, 178.school-bus, 125.knife}</text></g>
<g id="b17"><circle class="nb" cx="716" cy="923" r="14.5"/><text class="nl" x="716" y="948">D1:{038.chimp, 190.snake}</text></g>
<g id="y16"><circle class="ny" cx="667" cy="990" r="14.5"/><text class="nl" x="667" y="1015">D0:{113.hummingbird, 180.screwdriver, 053.desk-globe}</text></g>
<g id="y17"><circle class="ny" cx="750" cy="968" r="14.5"/><text class="nl" x="750" y="993">D0:{190.snake, 214.teepee, 039.chopsticks, 023.bulldozer}</text></g>
<g id="b18"><circle class="nb" cx="710" cy="1017" r="14.5"/><text class="nl" x="710" y="1042">D1:{234.tweezer, 189.snail, 215.telephone-box}</text></g>
<g id="b19"><circle class="nb" cx="848" cy="911" r="14.5"/><text class="nl" x="848" y="936">D1:{222.tombstone}</text></g>
<g id="y19"><circle class="ny" cx="846" cy="1002" r="14.5"/><text class="nl" x="846" y="1027">D0:{026.cake, 244.wheelbarrow, 222.tombstone, 183.sextant}</text></g>
<g id="y18"><circle class="ny" cx="855" cy="977" r="14.5"/><text class="nl" x="855" y="1002">D0:{234.tweezer, 220.toaster, 192.snowmobile}</text></g>
<g id="b20"><circle class="nb" cx="873" cy="1067" r="14.5"/><text class="nl" x="873" y="1092">D1:{009.bear, 244.wheelbarrow, 105.horse, 039.chopsticks}</text></g>
<g id="y21"><circle class="ny" cx="880" cy="1095" r="14.5"/><text class="nl" x="880" y="1120">D0:{138.mattress, 226.traffic-light, 224.touring-bike}</text></g>
<g id="b21"><circle class="nb" cx="954" cy="1086" r="14.5"/><text class="nl" x="954" y="1111">D1:{090.gorilla, 226.traffic-light, 052.crab-101, 010.beer-mug}</text></g>
<g id="y20"><circle class="ny" cx="1030" cy="1095" r="14.5"/><text class="nl" x="1030" y="1120">D0:{049.cormorant, 052.crab-101}</text></g>
<g id="b22"><circle class="nb" cx="809" cy="1103" r="14.5"/><text class="nl" x="809" y="1128">D1:{250.zebra, 183.sextant, 224.touring-bike}</text></g>
<g id="b23"><circle class="nb" cx="724" cy="1108" r="14.5"/><text class="nl" x="724" y="1133">D1:{131.lightbulb, 214.teepee, 128.lathe}</text></g>
<g id="y22"><circle class="ny" cx="610" cy="1099" r="14.5"/><text class="nl" x="610" y="1124">D0:{163.playing-card, 045.computer-keyboard, 215.telephone-box}</text></g>
<g id="b24"><circle class="nb" cx="898" cy="1123" r="14.5"/><text class="nl" x="898" y="1148">D1:{018.bowling-pin, 195.soda-can, 053.desk-globe, 151.ostrich, 095.hamburger}</text></g>
<g id="y23"><circle class="ny" cx="1057" cy="1160" r="14.5"/><text class="nl" x="1057" y="1185">D0:{146.mountain-bike, 018.bowling-pin}</text></g>
<g id="b26"><circle class="nb" cx="1208" cy="1162" r="14.5"/><text class="nl" x="1208" y="1187">D1:{041.coffee-mug, 146.mountain-bike, 235.umbrella-101, 233.tuning-fork}</text></g>
<g id="b25"><circle class="nb" cx="1083" cy="1203" r="14.5"/><text class="nl" x="1083" y="1228">D1:{114.ibis-101, 109.hot-tub, 119.jesus-christ, 208.swiss-army-knife}</text></g>
<g id="y24"><circle class="ny" cx="981" cy="1217" r="14.5"/><text class="nl" x="981" y="1242">D0:{009.bear, 130.license-plate, 202.steering-wheel}</text></g>
<g id="y25"><circle class="ny" cx="863" cy="1216" r="14.5"/><text class="nl" x="863" y="1241">D0:{100.hawksbill-101, 151.ostrich}</text></g>
<g id="y26"><circle class="ny" cx="805" cy="1190" r="14.5"/><text class="nl" x="805" y="1215">D0:{090.gorilla, 250.zebra, 127.laptop-101, 128.lathe}</text></g>
<g id="y27"><circle class="ny" cx="662" cy="1154" r="14.5"/><text class="nl" x="662" y="1179">D0:{185.skateboard, 131.lightbulb, 253.faces-easy-101}</text></g>
<g id="b28"><circle class="nb" cx="551" cy="1193" r="14.5"/><text class="nl" x="551" y="1218">D1:{193.soccer-ball, 163.playing-card, 248.yarmulke}</text></g>
<g id="b29"><circle class="nb" cx="610" cy="1232" r="14.5"/><text class="nl" x="610" y="1257">D1:{069.fighter-jet, 005.baseball-glove}</text></g>
<g id="y28"><circle class="ny" cx="662" cy="1275" r="14.5"/><text class="nl" x="662" y="1300">D0:{211.tambourine}</text></g>
<g id="b31"><circle class="nb" cx="445" cy="1297" r="14.5"/><text class="nl" x="445" y="1322">D1:{161.photocopier, 020.brain-101}</text></g>
<g id="y29"><circle class="ny" cx="522" cy="1299" r="14.5"/><text class="nl" x="522" y="1324">D0:{020.brain-101, 136.octopus, 248.yarmulke, 213.teddy-bear, 256.toad}</text></g>
<g id="b30"><circle class="nb" cx="599" cy="1300" r="14.5"/><text class="nl" x="599" y="1325">D1:{076.football-helmet, 230.trilobite-101}</text></g>
<g id="b32"><circle class="nb" cx="763" cy="1343" r="14.5"/><text class="nl" x="763" y="1368">D1:{067.eyeglasses, 027.calculator, 127.laptop-101}</text></g>
<g id="y30"><circle class="ny" cx="661" cy="1371" r="14.5"/><text class="nl" x="661" y="1396">D0:{027.calculator, 155.paperclip, 006.basketball-hoop, 096.hammock}</text></g>
<g id="b33"><circle class="nb" cx="566" cy="1404" r="14.5"/><text class="nl" x="566" y="1429">D1:{154.palm-tree, 155.paperclip, 101.head-phones, 256.toad}</text></g>
<g id="b34"><circle class="nb" cx="841" cy="1417" r="14.5"/><text class="nl" x="841" y="1442">D1:{129.leopards-101, 179.scorpion-101, 157.pci-card, 072.fire-truck}</text></g>
<g id="y31"><circle class="ny" cx="691" cy="1457" r="14.5"/><text class="nl" x="691" y="1482">D0:{154.palm-tree, 179.scorpion-101, 246.wine-bottle}</text></g>
<g id="y32"><circle class="ny" cx="911" cy="1463" r="14.5"/><text class="nl" x="911" y="1488">D0:{157.pci-card, 144.minotaur}</text></g>
<g id="y33"><circle class="ny" cx="800" cy="1490" r="14.5"/><text class="nl" x="800" y="1515">D0:{067.eyeglasses, 116.iguana, 133.lightning, 072.fire-truck}</text></g>
<g id="b35"><circle class="nb" cx="718" cy="1528" r="14.5"/><text class="nl" x="718" y="1553">D1:{153.palm-pilot, 133.lightning, 246.wine-bottle}</text></g>
<g id="b36"><circle class="nb" cx="825" cy="1621" r="14.5"/><text class="nl" x="825" y="1646">D1:{116.iguana, 028.camel, 031.car-tire}</text></g>
<g id="y35"><circle class="ny" cx="774" cy="1683" r="14.5"/><text class="nl" x="774" y="1708">D0:{254.greyhound, 031.car-tire}</text></g>
<g id="y36"><circle class="ny" cx="884" cy="1700" r="14.5"/><text class="nl" x="884" y="1725">D0:{121.kangaroo-101, 028.camel, 068.fern, 204.sunflower-101}</text></g>
<g id="b37"><circle class="nb" cx="919" cy="1766" r="14.5"/><text class="nl" x="919" y="1791">D1:{003.backpack, 068.fern, 212.teapot}</text></g>
<g id="y34"><circle class="ny" cx="951" cy="1281" r="14.5"/><text class="nl" x="951" y="1306">D0:{129.leopards-101, 048.conch, 095.hamburger, 208.swiss-army-knife}</text></g>
<g id="y37"><circle class="ny" cx="1077" cy="1307" r="14.5"/><text class="nl" x="1077" y="1332">D0:{114.ibis-101, 099.harpsichord, 140.menorah-101}</text></g>
<g id="b38"><circle class="nb" cx="1047" cy="1321" r="14.5"/><text class="nl" x="1047" y="1346">D1:{201.starfish-101, 166.praying-mantis, 048.conch}</text></g>
<g id="b39"><circle class="nb" cx="1084" cy="1348" r="14.5"/><text class="nl" x="1084" y="1373">D1:{202.steering-wheel, 099.harpsichord, 084.giraffe, 117.ipod}</text></g>
<g id="y38"><circle class="ny" cx="1158" cy="1317" r="14.5"/><text class="nl" x="1158" y="1342">D0:{084.giraffe, 102.helicopter-101, 166.praying-mantis}</text></g>
<g id="y39"><circle class="ny" cx="1108" cy="1444" r="14.5"/><text class="nl" x="1108" y="1469">D0:{019.boxing-glove, 117.ipod}</text></g>
<g id="b40"><circle class="nb" cx="1208" cy="1227" r="14.5"/><text class="nl" x="1208" y="1252">D1:{252.car-side-101, 102.helicopter-101, 239.washing-machine}</text></g>
<g id="y40"><circle class="ny" cx="1307" cy="1231" r="14.5"/><text class="nl" x="1307" y="1256">D0:{041.coffee-mug, 002.american-flag, 252.car-side-101}</text></g>
<g id="y41"><circle class="ny" cx="1122" cy="1100" r="14.5"/><text class="nl" x="1122" y="1125">D0:{251.airplanes-101, 091.grand-piano-101, 239.washing-machine}</text></g>
<g id="y42"><circle class="ny" cx="1192" cy="1073" r="14.5"/><text class="nl" x="1192" y="1098">D0:{233.tuning-fork, 109.hot-tub, 111.house-fly}</text></g>
<g id="b49"><circle class="nb" cx="1044" cy="625" r="14.5"/><text class="nl" x="1044" y="650">D1:{110.hourglass}</text></g>
<g id="y48"><circle class="ny" cx="1048" cy="714" r="14.5"/><text class="nl" x="1048" y="739">D0:{241.waterfall, 074.flashlight, 110.hourglass}</text></g>
<g id="b50"><circle class="nb" cx="1146" cy="665" r="14.5"/><text class="nl" x="1146" y="690">D1:{065.elk, 137.mars, 094.guitar-pick, 158.penguin}</text></g>
<g id="b51"><circle class="nb" cx="1269" cy="623" r="14.5"/><text class="nl" x="1269" y="648">D1:{073.fireworks, 008.bathtub}</text></g>
<g id="y49"><circle class="ny" cx="1210" cy="695" r="14.5"/><text class="nl" x="1210" y="720">D0:{132.light-house, 093.grasshopper, 094.guitar-pick, 008.bathtub}</text></g>
<g id="b41"><circle class="nb" cx="1231" cy="727" r="14.5"/><text class="nl" x="1231" y="752">D1:{177.saturn, 139.megaphone, 011.billiards, 247.xylophone}</text></g>
<g id="y50"><circle class="ny" cx="1319" cy="748" r="14.5"/><text class="nl" x="1319" y="773">D0:{042.coffin, 139.megaphone}</text></g>
<g id="y43"><circle class="ny" cx="1113" cy="754" r="14.5"/><text class="nl" x="1113" y="779">D0:{137.mars, 162.picnic-table, 243.welding-mask, 071.fire-hydrant, 011.billiards}</text></g>
<g id="b43"><circle class="nb" cx="1292" cy="821" r="14.5"/><text class="nl" x="1292" y="846">D1:{209.sword, 042.coffin, 004.baseball-bat, 032.cartman}</text></g>
<g id="b42"><circle class="nb" cx="1150" cy="829" r="14.5"/><text class="nl" x="1150" y="854">D1:{075.floppy-disk, 093.grasshopper, 174.rotary-phone}</text></g>
<g id="b44"><circle class="nb" cx="1059" cy="836" r="14.5"/><text class="nl" x="1059" y="861">D1:{241.waterfall, 034.centipede, 181.segway, 070.fire-extinguisher, 206.sushi}</text></g>
<g id="y44"><circle class="ny" cx="1189" cy="866" r="14.5"/><text class="nl" x="1189" y="891">D0:{257.clutter, 209.sword, 181.segway, 089.goose, 142.microwave}</text></g>
<g id="y46"><circle class="ny" cx="988" cy="888" r="14.5"/><text class="nl" x="988" y="913">D0:{219.theodolite, 070.fire-extinguisher}</text></g>
<g id="b45"><circle class="nb" cx="1235" cy="917" r="14.5"/><text class="nl" x="1235" y="942">D1:{071.fire-hydrant, 021.breadmaker, 111.house-fly}</text></g>
<g id="b46"><circle class="nb" cx="1162" cy="946" r="14.5"/><text class="nl" x="1162" y="971">D1:{097.harmonica, 142.microwave}</text></g>
<g id="y45"><circle class="ny" cx="1080" cy="966" r="14.5"/><text class="nl" x="1080" y="991">D0:{097.harmonica, 010.beer-mug, 060.duck, 174.rotary-phone, 064.elephant-101}</text></g>
<g id="y47"><circle class="ny" cx="979" cy="970" r="14.5"/><text class="nl" x="979" y="995">D0:{195.soda-can, 206.sushi}</text></g>
<g id="b48"><circle class="nb" cx="999" cy="985" r="14.5"/><text class="nl" x="999" y="1010">D1:{219.theodolite, 251.airplanes-101, 192.snowmobile}</text></g>
<g id="y51"><circle class="ny" cx="1356" cy="929" r="14.5"/><text class="nl" x="1356" y="954">D0:{171.refrigerator, 021.breadmaker}</text></g>
<g id="b52"><circle class="nb" cx="1452" cy="931" r="14.5"/><text class="nl" x="1452" y="956">D1:{171.refrigerator, 207.swan, 168.raccoon}</text></g>
<g id="y52"><circle class="ny" cx="1527" cy="929" r="14.5"/><text class="nl" x="1527" y="954">D0:{050.covered-wagon, 207.swan}</text></g>
<g id="b53"><circle class="nb" cx="1772" cy="1115" r="14.5"/><text class="nl" x="1765" y="1140">D1:{218.tennis-racket}</text></g>
<g id="b54"><circle class="nb" cx="1411" cy="1291" r="14.5"/><text class="nl" x="1411" y="1316">D1:{186.skunk, 156.paper-shredder, 002.american-flag, 152.owl}</text></g>
<g id="y53"><circle class="ny" cx="1505" cy="1299" r="14.5"/><text class="nl" x="1505" y="1324">D0:{186.skunk, 126.ladder}</text></g>
<g id="b55"><circle class="nb" cx="1576" cy="1317" r="14.5"/><text class="nl" x="1576" y="1342">D1:{126.ladder, 015.bonsai-101}</text></g>
<g id="y54"><circle class="ny" cx="1417" cy="1370" r="14.5"/><text class="nl" x="1417" y="1395">D0:{056.dog, 152.owl}</text></g>
<g id="y56"><circle class="ny" cx="54" cy="1089" r="14.5"/><text class="nl" x="56" y="1114">D0:{014.blimp, 024.butterfly}</text></g>
<g id="b59"><circle class="nb" cx="124" cy="1101" r="14.5"/><text class="nl" x="124" y="1126">D1:{035.cereal-box, 080.frog, 024.butterfly}</text></g>
<g id="y57"><circle class="ny" cx="209" cy="1117" r="14.5"/><text class="nl" x="209" y="1142">D0:{249.yo-yo, 035.cereal-box, 086.golden-gate-bridge}</text></g>
<g id="b60"><circle class="nb" cx="306" cy="1138" r="14.5"/><text class="nl" x="306" y="1163">D1:{046.computer-monitor, 141.microscope, 086.golden-gate-bridge}</text></g>
<g id="y58"><circle class="ny" cx="307" cy="1258" r="14.5"/><text class="nl" x="307" y="1283">D0:{081.frying-pan, 046.computer-monitor}</text></g>
<g id="y59"><circle class="ny" cx="243" cy="1376" r="14.5"/><text class="nl" x="243" y="1401">D0:{145.motorbikes-101, 187.skyscraper, 083.gas-pump}</text></g>
<g id="b61"><circle class="nb" cx="324" cy="1381" r="14.5"/><text class="nl" x="324" y="1406">D1:{145.motorbikes-101, 081.frying-pan, 124.killer-whale, 030.canoe}</text></g>
<g id="y60"><circle class="ny" cx="440" cy="1412" r="14.5"/><text class="nl" x="440" y="1437">D0:{124.killer-whale, 101.head-phones}</text></g>
<g id="y61"><circle class="ny" cx="285" cy="1478" r="14.5"/><text class="nl" x="285" y="1503">D0:{057.dolphin-101, 017.bowling-ball, 030.canoe}</text></g>
<g id="b62"><circle class="nb" cx="248" cy="1557" r="14.5"/><text class="nl" x="248" y="1582">D1:{001.ak47, 057.dolphin-101, 036.chandelier-101}</text></g>
<g id="y62"><circle class="ny" cx="219" cy="1622" r="14.5"/><text class="nl" x="219" y="1647">D0:{194.socks, 203.stirrups, 036.chandelier-101}</text></g>
</g>
</svg>
